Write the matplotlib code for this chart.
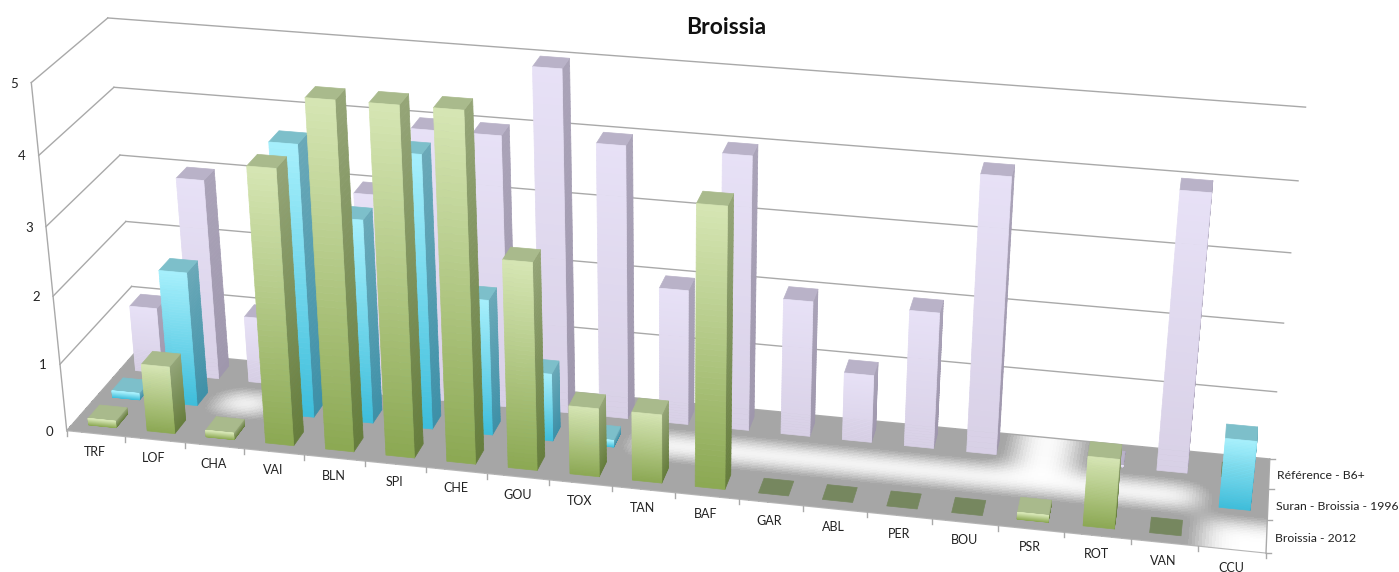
import numpy as np
import matplotlib
matplotlib.use('Agg')
import matplotlib.pyplot as plt
from matplotlib.collections import PolyCollection

plt.rcParams['font.family'] = ['Lato', 'DejaVu Sans']

# Data
categories = ['TRF', 'LOF', 'CHA', 'VAI', 'BLN', 'SPI', 'CHE', 'GOU', 'TOX', 'TAN',
              'BAF', 'GAR', 'ABL', 'PER', 'BOU', 'PSR', 'ROT', 'VAN', 'CCU']
nan = np.nan
broissia_2012 = [0.1, 1, 0.1, 4, 5, 5, 5, 3, 1, 1, 4, 0, 0, 0, 0, 0.1, 1, 0, nan]
suran_1996 = [0.1, 2, nan, 4, 3, 4, 2, 1, 0.1, nan, nan, nan, nan, nan, nan, nan, nan, nan, 1]
reference = [1, 3, 1, 1, 3, 4, 4, 5, 4, 2, 4, 2, 1, 2, 4, nan, 0.02, 4, 0]
series_names = ['Broissia - 2012', 'Suran - Broissia - 1996', 'Référence - B6+']
z_ticks = [0, 1, 2, 3, 4, 5]

# (top of face, bottom of face, side top, side bottom, top face)
green = ('#d6e6b4', '#8ba852', '#95a578', '#667d3c', '#a9ba8c')
cyan = ('#a6effc', '#3dbedb', '#6aa9b8', '#3d90a8', '#7dbfca')
lilac = ('#e7e1f6', '#d8d0e6', '#aaa3b8', '#9f97ad', '#b9b2c8')
tile_zero = '#76875f'

# Camera fitted on the chart's box corners: (x, depth, z) -> pixel
box_world = np.array([[0, 0, 0], [0, 0, 5], [0, 0, 3], [0, 3, 0], [0, 3, 5], [0, 3, 3],
                      [19, 3, 0], [19, 3, 5], [19, 3, 3], [19, 0, 0]], dtype=float)
box_pixel = np.array([[67, 431], [31, 83], [46, 226], [137, 350], [108, 18], [120, 155],
                      [1270, 459], [1306, 107], [1290, 253], [1266, 553]], dtype=float)
rows = []
rhs = []
for (wx, wy, wz), (px, py) in zip(box_world, box_pixel):
    rows.append([wx, wy, wz, 1, 0, 0, 0, 0, -px * wx, -px * wy, -px * wz])
    rows.append([0, 0, 0, 0, wx, wy, wz, 1, -py * wx, -py * wy, -py * wz])
    rhs += [px, py]
cam = np.linalg.lstsq(np.array(rows), np.array(rhs), rcond=None)[0]
cam = np.append(cam, 1).reshape(3, 4)


def proj(x, d, z):
    x, d, z = np.broadcast_arrays(np.asarray(x, float), np.asarray(d, float), np.asarray(z, float))
    pts = np.stack([x, d, z, np.ones_like(x)], axis=-1) @ cam.T
    return pts[..., 0] / pts[..., 2], pts[..., 1] / pts[..., 2]


def quad(*corners):
    return np.column_stack(proj(*np.array(corners).T))


def mix(c1, c2, t):
    a = np.array(matplotlib.colors.to_rgb(c1))
    b = np.array(matplotlib.colors.to_rgb(c2))
    return tuple(a + (b - a) * t)


fig = plt.figure(figsize=(13.99, 5.72), dpi=100)
ax = fig.add_axes([0, 0, 1, 1])
ax.set_xlim(0, 1399)
ax.set_ylim(572, 0)
ax.set_axis_off()

# Floor: grey blurred around cells that hold a value, white elsewhere
res = 20
mask = np.zeros((3 * res, 19 * res))
for r, vals in enumerate([broissia_2012, suran_1996, reference]):
    for i, v in enumerate(vals):
        if not np.isnan(v):
            mask[max(r * res - 2, 0):(r + 1) * res + 2, i * res:(i + 1) * res] = 1
k = np.exp(-0.5 * (np.arange(-15, 16) / 5.0) ** 2)
k /= k.sum()
pad = np.pad(mask, 15, mode='edge')
blur = np.apply_along_axis(lambda a: np.convolve(a, k, mode='same'), 0, pad)
blur = np.apply_along_axis(lambda a: np.convolve(a, k, mode='same'), 1, blur)[15:-15, 15:-15]
floor = 1 - 0.35 * np.clip(blur * 1.3, 0, 1)
gx, gd = np.meshgrid(np.linspace(0, 19, 19 * res + 1), np.linspace(0, 3, 3 * res + 1))
fx, fy = proj(gx, gd, 0)
ax.pcolormesh(fx, fy, floor, cmap='gray', vmin=0, vmax=1, shading='flat', zorder=1)

# Walls grid
grid_col = '#a9a9a9'
for z in z_ticks:
    ax.plot(*proj([0, 0], [0, 3], z), color=grid_col, lw=1, zorder=2)
    ax.plot(*proj([0, 19], [3, 3], z), color=grid_col, lw=1, zorder=2)
    ax.annotate(str(z), proj(0, 0, z), xytext=(-17, -1), textcoords='offset pixels',
                ha='center', va='center', fontsize=9.5, color='#222222', zorder=6)
ax.plot(*proj([0, 0], [0, 0], [0, 5]), color=grid_col, lw=1, zorder=2)
ax.plot(*proj([19, 19], [0, 3], 0), color=grid_col, lw=1, zorder=2)
ax.plot(*proj([0, 19], [0, 0], 0), color='#b5b5b5', lw=0.8, zorder=2)

# Ticks and labels
for i in range(20):
    px, py = proj(i, 0, 0)
    ax.plot([px, px], [py, py + 5], color=grid_col, lw=1, zorder=2)
for i, name in enumerate(categories):
    ax.annotate(name, proj(i + 0.5, 0, 0), xytext=(-1, -18), textcoords='offset pixels',
                ha='center', va='center', fontsize=9, color='#222222', zorder=6)
for r in range(4):
    px, py = proj(19, r, 0)
    ax.plot([px, px + 5], [py, py], color=grid_col, lw=1, zorder=2)
for r, name in enumerate(series_names):
    ax.annotate(name, proj(19, r + 0.5, 0), xytext=(8, -2), textcoords='offset pixels',
                ha='left', va='center', fontsize=8.8, color='#222222', zorder=6)

# Bars, back row first
bar_w = 0.47
bar_d = 0.48
bands = 50
polys = []
colors = []
for r, vals, col in [(2, reference, lilac), (1, suran_1996, cyan), (0, broissia_2012, green)]:
    for i, v in enumerate(vals):
        if np.isnan(v):
            continue
        x0 = i + 0.5 - bar_w / 2
        x1 = i + 0.5 + bar_w / 2
        d0 = r + 0.5 - bar_d / 2
        d1 = r + 0.5 + bar_d / 2
        if v == 0:
            polys.append(quad((x0, d0, 0), (x1, d0, 0), (x1, d1, 0), (x0, d1, 0)))
            colors.append(mix(tile_zero, tile_zero, 0))
            continue
        edges = np.linspace(0, v, bands + 1)
        # side face on the camera side
        right_vis = proj(x1, d1, 0)[0] > proj(x1, d0, 0)[0]
        left_vis = proj(x0, d1, 0)[0] < proj(x0, d0, 0)[0]
        for b in range(bands):
            z0, z1 = edges[b], edges[b + 1]
            c = mix(col[3], col[2], (b + 0.5) / bands)
            if right_vis:
                polys.append(quad((x1, d0, z0), (x1, d1, z0), (x1, d1, z1), (x1, d0, z1)))
                colors.append(c)
            if left_vis:
                polys.append(quad((x0, d0, z0), (x0, d1, z0), (x0, d1, z1), (x0, d0, z1)))
                colors.append(c)
        polys.append(quad((x0, d0, v), (x1, d0, v), (x1, d1, v), (x0, d1, v)))
        colors.append(col[4])
        for b in range(bands):
            z0, z1 = edges[b], edges[b + 1]
            polys.append(quad((x0, d0, z0), (x1, d0, z0), (x1, d0, z1), (x0, d0, z1)))
            colors.append(mix(col[1], col[0], (b + 0.5) / bands))
ax.add_collection(PolyCollection(polys, facecolors=colors, edgecolors=colors, linewidths=0.5, zorder=4))

fig.text(726 / 1399, 1 - 27 / 572, 'Broissia', ha='center', va='center', fontsize=16.5,
         fontweight='bold', color='#111111')

fig.savefig('out.png', dpi=100)
